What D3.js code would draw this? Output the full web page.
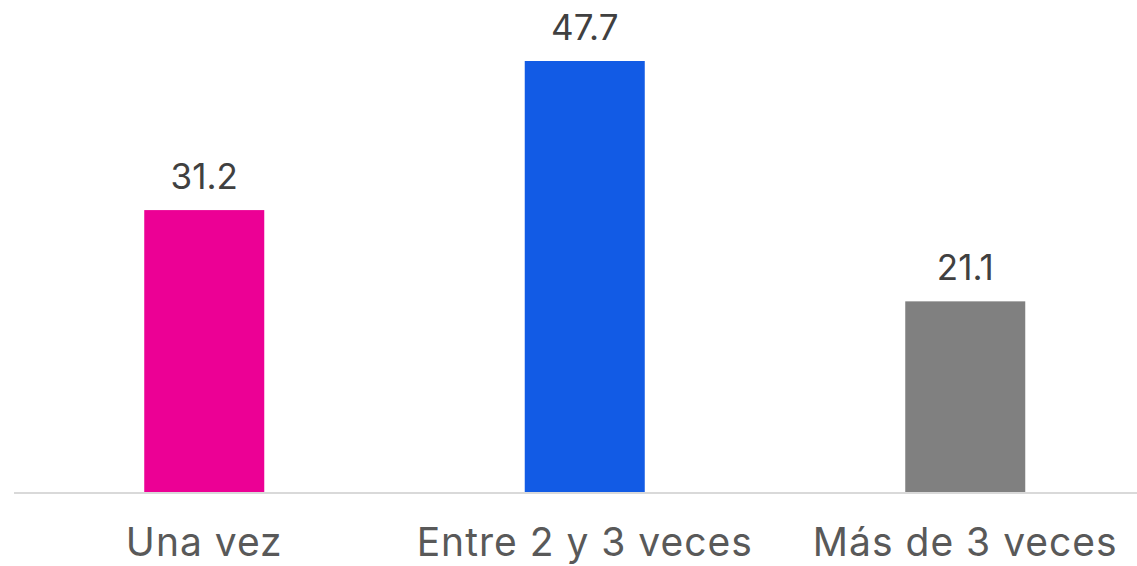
<!DOCTYPE html>
<html><head><meta charset="utf-8">
<script src="https://cdn.jsdelivr.net/npm/d3@7"></script>
<style>body{margin:0;background:#fff}svg{display:block}</style>
</head><body>
<svg id="c" width="1137" height="566"></svg>
<script>
const categories = ["Una vez", "Entre 2 y 3 veces", "Más de 3 veces"];
const values = [31.2, 47.7, 21.1];
const colors = ["#EC0095", "#125BE5", "#808080"];

const svg = d3.select("#c");
const baseY = 492;
const x = d3.scaleBand().domain(categories).range([14, 14 + 3 * 380.5]).paddingInner(0.6846).paddingOuter(0.3423);
const y = d3.scaleLinear().domain([0, 47.7]).range([baseY, 61]);

svg.selectAll("rect.bar").data(values).join("rect")
  .attr("class", "bar")
  .attr("x", (d, i) => x(categories[i]))
  .attr("y", d => y(d))
  .attr("width", x.bandwidth())
  .attr("height", d => baseY - y(d))
  .attr("fill", (d, i) => colors[i]);

svg.append("line").attr("x1", 14).attr("x2", 1137).attr("y1", baseY + 1).attr("y2", baseY + 1)
  .attr("stroke", "#d9d9d9").attr("stroke-width", 2);

svg.selectAll("text.val").data(values).join("text")
  .attr("class", "val")
  .attr("x", (d, i) => x(categories[i]) + x.bandwidth() / 2)
  .attr("y", d => y(d) - 21)
  .attr("text-anchor", "middle")
  .attr("font-family", "Inter, sans-serif")
  .attr("font-size", 35)
  .attr("fill", "#404040")
  .text(d => d.toFixed(1));

const axis = d3.axisBottom(x).tickSize(0).tickPadding(0);
const g = svg.append("g").attr("transform", `translate(0,${baseY})`).call(axis);
g.select(".domain").remove();
g.selectAll("text")
  .attr("dy", null)
  .attr("y", 64)
  .attr("font-family", "Inter, sans-serif")
  .attr("font-size", 39)
  .attr("letter-spacing", 1)
  .attr("fill", "#595959");
</script>
</body></html>
